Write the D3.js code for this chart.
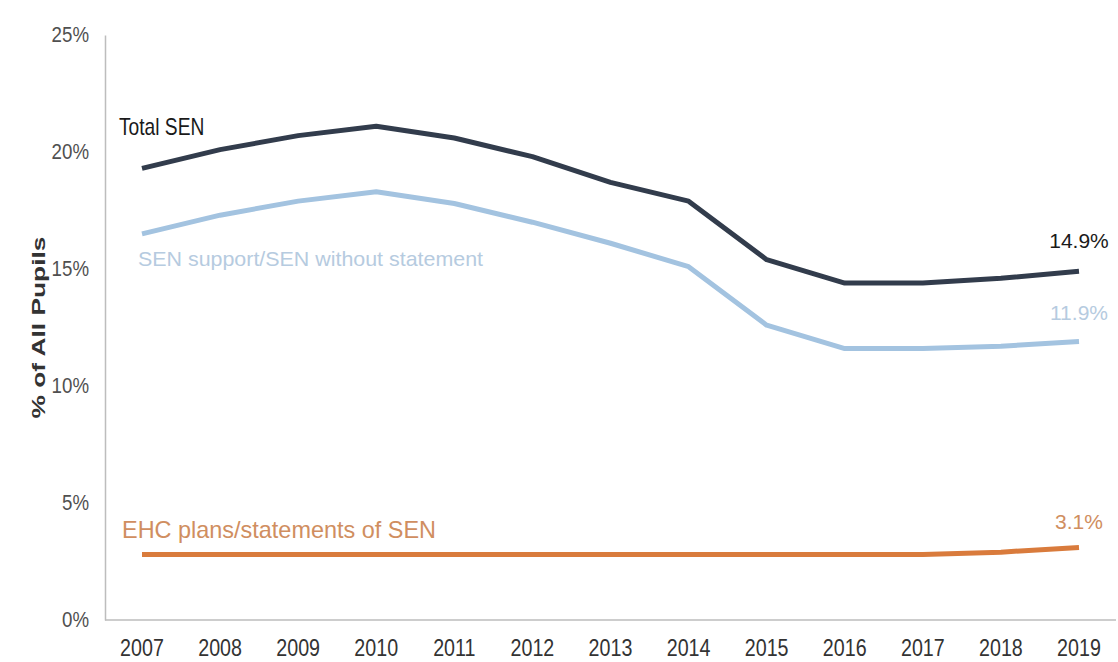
<!DOCTYPE html>
<html>
<head>
<meta charset="utf-8">
<script src="https://cdn.jsdelivr.net/npm/d3@7"></script>
<style>
  html, body { margin: 0; padding: 0; background: #ffffff; }
  svg { display: block; }
  text { font-family: "Liberation Sans", Arial, sans-serif; }
</style>
</head>
<body>
<svg id="chart" width="1118" height="662"></svg>
<script>
// Share of all pupils with special educational needs, England, 2007–2019
const years = [2007, 2008, 2009, 2010, 2011, 2012, 2013, 2014, 2015, 2016, 2017, 2018, 2019];
const totalSEN = [19.3, 20.1, 20.7, 21.1, 20.6, 19.8, 18.7, 17.9, 15.4, 14.4, 14.4, 14.6, 14.9];
const senSupport = [16.5, 17.3, 17.9, 18.3, 17.8, 17.0, 16.1, 15.1, 12.6, 11.6, 11.6, 11.7, 11.9];
const ehcPlans = [2.8, 2.8, 2.8, 2.8, 2.8, 2.8, 2.8, 2.8, 2.8, 2.8, 2.8, 2.9, 3.1];
const yTicks = [0, 5, 10, 15, 20, 25];

const series = [
  { name: "Total SEN", values: totalSEN, color: "#323c4c", labelColor: "#1a1a1a" },
  { name: "SEN support/SEN without statement", values: senSupport, color: "#a3c3e0", labelColor: "#b6cbe0" },
  { name: "EHC plans/statements of SEN", values: ehcPlans, color: "#d97b3c", labelColor: "#d08e60" }
];

const svg = d3.select("#chart");
const axisX = 105;
const plotBottom = 620;
const plotTop = 35;

const x = d3.scalePoint().domain(years).range([142, 1079]);
const y = d3.scaleLinear().domain([0, 25]).range([plotBottom, plotTop]);

// Text drawn with a tall, slightly condensed look
function label(px, py, str, o) {
  const t = svg.append("text")
    .attr("transform", `translate(${px},${py}) scale(${o.sx || 1},1)`)
    .attr("text-anchor", o.anchor || "start")
    .attr("font-size", o.size)
    .attr("fill", o.fill)
    .text(str);
  if (o.length) t.attr("textLength", o.length).attr("lengthAdjust", "spacingAndGlyphs");
  if (o.weight) t.attr("font-weight", o.weight);
  return t;
}

// Axis lines
const yAxis = svg.append("g")
  .attr("transform", `translate(${axisX},0)`)
  .call(d3.axisLeft(y).tickValues(yTicks).tickSize(0).tickFormat(""));
yAxis.select(".domain").attr("stroke", "#bdbdbd").attr("stroke-width", 1.5);

const xAxis = svg.append("g")
  .attr("transform", `translate(0,${plotBottom})`)
  .call(d3.axisBottom(x).tickSize(0).tickFormat(""));
xAxis.select(".domain").remove();
svg.append("line")
  .attr("x1", axisX).attr("x2", 1116)
  .attr("y1", plotBottom).attr("y2", plotBottom)
  .attr("stroke", "#bdbdbd").attr("stroke-width", 1.5);

// Tick labels
yTicks.forEach(v => label(89, y(v) + 7, v + "%", { size: 22, sx: 0.85, anchor: "end", fill: "#505050" }));
years.forEach(yr => label(x(yr), 656, String(yr), { size: 24, sx: 0.82, anchor: "middle", fill: "#333333" }));

// Axis title
svg.append("text")
  .attr("transform", `translate(45,${(plotTop + plotBottom) / 2}) rotate(-90)`)
  .attr("text-anchor", "middle")
  .attr("font-weight", "bold")
  .attr("font-size", 19)
  .attr("fill", "#333")
  .attr("textLength", 182)
  .attr("lengthAdjust", "spacingAndGlyphs")
  .text("% of All Pupils");

// Lines
const line = d3.line().x((d, i) => x(years[i])).y(d => y(d));
svg.selectAll("path.series")
  .data(series)
  .join("path")
  .attr("class", "series")
  .attr("d", d => line(d.values))
  .attr("fill", "none")
  .attr("stroke", d => d.color)
  .attr("stroke-width", 5)
  .attr("stroke-linejoin", "round");

// Series names
label(119, 135, series[0].name, { size: 24, sx: 0.8, fill: series[0].labelColor });
label(138, 266, series[1].name, { size: 21, fill: series[1].labelColor, length: 345 });
label(122, 538, series[2].name, { size: 24, fill: series[2].labelColor, length: 314 });

// End-of-line value labels, centred over the last year
const last = years.length - 1;
[
  { s: series[0], dy: -23 },
  { s: series[1], dy: -22 },
  { s: series[2], dy: -18 }
].forEach(l => {
  label(x(years[last]), y(l.s.values[last]) + l.dy, l.s.values[last].toFixed(1) + "%",
    { size: 21, anchor: "middle", fill: l.s.labelColor });
});
</script>
</body>
</html>
